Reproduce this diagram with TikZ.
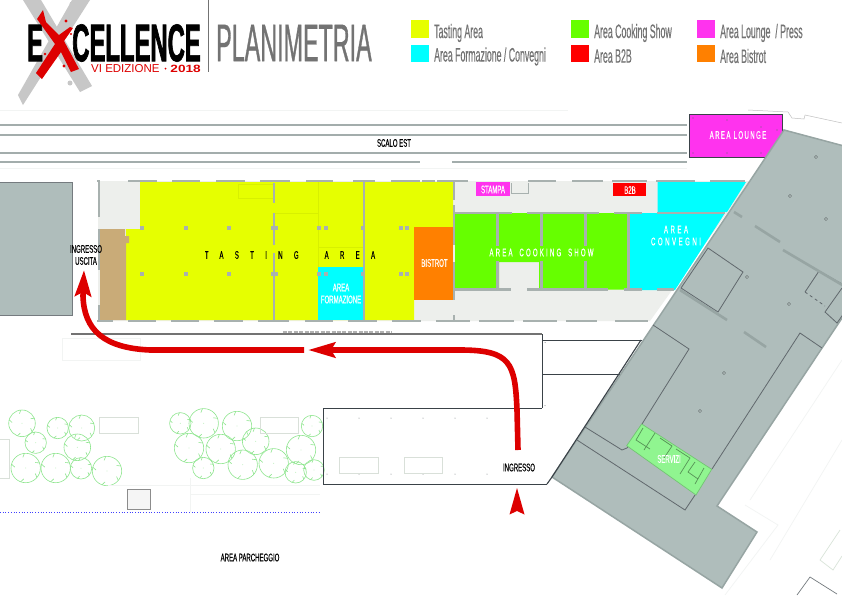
\documentclass[tikz,border=0pt]{standalone}
\usepackage{fontspec}
\usetikzlibrary{arrows.meta}
\setmainfont{Liberation Sans}
\newfontfamily\logofont[FakeStretch=0.45,FakeBold=1.2]{Liberation Sans Bold}
\newfontfamily\titlefont[FakeStretch=0.44,FakeBold=0.6]{Liberation Sans}
\newfontfamily\legfont[FakeStretch=0.45,FakeBold=0.25]{Liberation Sans}
\newfontfamily\cnd[FakeStretch=0.55,FakeBold=0.3]{Liberation Sans}
\newfontfamily\cndwide[FakeStretch=0.55,LetterSpace=20,FakeBold=0.3]{Liberation Sans}
\newfontfamily\cndconv[FakeStretch=0.55,LetterSpace=23,FakeBold=0.3]{Liberation Sans}
\newfontfamily\cndmid[FakeStretch=0.55,LetterSpace=13,FakeBold=0.3]{Liberation Sans}
\newfontfamily\cndvast[FakeStretch=0.55,LetterSpace=103,FakeBold=0.3]{Liberation Sans}
\newfontfamily\yearfont[FakeStretch=1.3]{Liberation Sans Bold}
\definecolor{bldg}{HTML}{AFBDBB}
\definecolor{bldgedge}{HTML}{97A5A3}
\definecolor{darkline}{HTML}{3A4248}
\definecolor{wallc}{HTML}{A8B1AF}
\definecolor{hallbg}{HTML}{EDEFEC}
\definecolor{ctast}{HTML}{E6FF00}
\definecolor{ccyan}{HTML}{00FFFF}
\definecolor{ccook}{HTML}{66FF00}
\definecolor{cred}{HTML}{FF0000}
\definecolor{clounge}{HTML}{FF33EE}
\definecolor{corange}{HTML}{FF8000}
\definecolor{ctan}{HTML}{C9AB78}
\definecolor{arrowred}{HTML}{DD0000}
\definecolor{treec}{HTML}{8FE68F}
\definecolor{servc}{HTML}{90F590}
\definecolor{faintc}{HTML}{F2F4F3}
\definecolor{trackc}{HTML}{A3ADAC}
\tikzset{
  lbl/.style={inner sep=0pt,font=\cnd\fontsize{11}{12}\selectfont,text=black},
  whitelbl/.style={inner sep=0pt,font=\cnd\fontsize{11}{12}\selectfont,text=white},
  legtext/.style={inner sep=0pt,anchor=west,font=\legfont\fontsize{19.5}{20}\selectfont,text=black!55},
  legbox/.style={draw=none,inner sep=0pt,minimum width=17.5pt,minimum height=17.5pt,anchor=north west},
  wall/.style={draw=wallc,line width=2.7pt},
  iwall/.style={draw=wallc,line width=3pt},
  track/.style={draw=trackc,line width=1.1pt},
  faint/.style={draw=faintc,line width=0.7pt},
  roomline/.style={draw=darkline!80,line width=0.8pt},
  outline/.style={draw=darkline,line width=1pt},
  strip/.style={draw=bldgedge,line width=2.6pt},
  routearrow/.style={draw=arrowred,line width=5.6pt},
}
\begin{document}
\begin{tikzpicture}[x=1pt,y=-1pt]
\useasboundingbox (0,0) rectangle (842,595);
\clip (0,0) rectangle (842,595);
\fill[white] (0,0) rectangle (842,595);

% logo
\fill[black!22] (23,0) -- (41,0) -- (92,86) -- (80,92) -- cycle;
\fill[black!22] (72,0) -- (90,0) -- (23,105) -- (18,95) -- cycle;
\fill[black!22] (72,4) circle (2.5);
\fill[black!22] (70,83) circle (2.5);
\node[inner sep=0pt,anchor=west,font=\logofont\fontsize{53}{54}\selectfont] (logoe) at (27,43) {E};
\node[inner sep=0pt,anchor=east,font=\logofont\fontsize{53}{54}\selectfont] (logorest) at (201,43) {CELLENCE};
\fill[arrowred] (43,10) -- (37,19) -- (55,44) -- (36,73) -- (42,79) -- (61,52) -- (71,72) -- (79,69) -- (64,41) -- (73,28) -- (70,27) -- (59,35) -- (46,22) -- cycle;
\foreach \p/\q/\s in {66/21/1.6,71/34/1.1,64/66/1.6,45/54/1.4}{\fill[arrowred] (\p,\q) circle (\s);}
\node[inner sep=0pt,anchor=west,text=arrowred,font=\fontsize{11.5}{12}\selectfont] (logovi) at (91,68.5) {VI EDIZIONE};
\fill[arrowred] (165.5,68.5) circle (1);
\node[inner sep=0pt,anchor=east,text=arrowred,font=\yearfont\fontsize{10.5}{11}\selectfont] (logoyr) at (201,68.5) {2018};
\draw[black!55,line width=0.8pt] (208,0) -- (208,72);
\node[inner sep=0pt,anchor=west,text=black!55,font=\titlefont\fontsize{53}{54}\selectfont] (title) at (216,43) {PLANIMETRIA};

% legend
\node[legbox,fill=ctast] (k1) at (411,20) {};
\node[legbox,fill=ccyan] (k2) at (411,44.5) {};
\node[legbox,fill=ccook] (k3) at (571,20) {};
\node[legbox,fill=cred] (k4) at (571,44.5) {};
\node[legbox,fill=clounge] (k5) at (697,20) {};
\node[legbox,fill=corange] (k6) at (697,44.5) {};
\node[legtext] (t1) at (434,33) {Tasting Area};
\node[legtext] (t2) at (434,56.5) {Area Formazione / Convegni};
\node[legtext] (t3) at (594,33) {Area Cooking Show};
\node[legtext] (t4) at (594,56) {Area B2B};
\node[legtext] (t5) at (720,33) {Area Lounge\ \ / Press};
\node[legtext] (t6) at (720,56) {Area Bistrot};

% faint surroundings
\draw[faint] (0,110) -- (568,110);
\draw[faint] (0,168) -- (687,168);
\draw[faint] (62,338) rectangle (140,360);
\draw[draw=black!25,line width=0.5pt] (748,110) -- (788,112) -- (792,118) -- (804,119) -- (805,115) -- (842,123);
\draw[faint] (770,560) -- (842,440);
\draw[faint] (750,500) -- (842,360);
\draw[faint] (745,505) -- (778,525) -- (725,595);
\draw[draw=green!30!black!15,line width=0.7pt] (840,530) -- (820,560) -- (833,570) -- (842,556);
\draw[draw=darkline!70,line width=0.7pt] (797,595) -- (810,577) -- (837,594);

% tracks
\foreach \ty in {125,135,153}{\draw[track] (0,\ty) -- (687,\ty);}
\draw[track] (0,162) -- (420,162);
\draw[track] (452,162) -- (687,162);

% trees
\foreach \x/\y/\r in {22/423.3/13.3,35.7/442.7/10.7,25.7/468/14.7,57.7/428/10.7,81.7/428/13,77.3/447.3/13.3,55.7/468/14.7,81/468.3/10.7,107/471/14.7,180.3/423.3/10.7,203.7/423.3/14.7,237/426/14.7,189/448/14.7,220.7/449/14.7,255.7/441.3/13.3,203.3/468/10.7,242.7/464.7/14.7,273.7/463.3/14.7,301/450/14.7,295.7/472.3/10.7,314/470/10.3,312/426/10.7}{
  \draw[treec,line width=0.6pt] (\x,\y) circle (\r);
  \foreach \a in {20,95,165,250,320}{
    \draw[treec,line width=0.6pt] ({\x+\r*cos(\a)},{\y-\r*sin(\a)}) -- ({\x+0.75*\r*cos(\a+10)},{\y-0.75*\r*sin(\a+10)});
  }
  \fill[treec] (\x,\y) circle (0.4);
}
\draw[draw=green!20!black!15,line width=0.8pt] (99.3,417.3) rectangle (138.7,433.3);
\draw[draw=green!20!black!15,line width=0.8pt] (260,417.3) rectangle (298.7,433.3);
\draw[draw=green!20!black!15,line width=0.8pt] (-2,439.3) rectangle (9.3,478.7);
\draw[draw=black!45,fill=black!4,line width=0.8pt] (127.3,489.3) rectangle (150.7,509.3);
\draw[blue!75,line width=0.7pt,dotted] (0,512.3) -- (320,512.3);
\draw[faint] (108,485) -- (320,485);
\draw[faint] (190,478) -- (190,512);
\draw[faint] (190,494) -- (320,494);

% left building
\draw[fill=bldg,draw=darkline!70,line width=0.8pt] (-2,182.5) rectangle (72.5,315.5);

% hall floor and areas
\fill[hallbg] (98,181) -- (750,181) -- (650,321) -- (98,321) -- cycle;
\fill[ctast] (140,182) -- (453,182) -- (453,227) -- (414,227) -- (414,320) -- (126,320) -- (126,229) -- (140,229) -- cycle;
\fill[ctan] (100,229) -- (125,229) -- (125,236) -- (129,236) -- (129,243) -- (126,243) -- (126,320) -- (100,320) -- cycle;
\fill[ccyan] (318,267) rectangle (363,320);
\fill[corange] (414,227) rectangle (453,300);
\fill[ccook] (455,213) -- (627,213) -- (627,289.5) -- (539,289.5) -- (539,262) -- (499,262) -- (499,289.5) -- (455,289.5) -- cycle;
\fill[ccyan] (630,213) -- (725,213) -- (675,290) -- (630,290) -- cycle;
\fill[ccyan] (657.5,182) -- (746,182) -- (727,212) -- (657.5,212) -- cycle;
\fill[clounge] (476,182) rectangle (510,196);
\fill[cred] (613,183) rectangle (646,196);
\draw[ctast!94!black,line width=0.4pt] (238,184) rectangle (273,198);
\draw[ctast!94!black,line width=0.4pt] (318,182) -- (318,267) (274,213) -- (318,213) (318,247) -- (363,247);

% outer walls of the hall
\foreach \a/\b in {97/100,128/157,172/200,216/245,260/290,306/333,353/375,391/420,422/435,437/468,528/556,572/603,612/647,656/695,710/745}{\draw[wall] (\a,181) -- (\b,181);}
\foreach \a/\b in {97/113,128/156,171/199,214/243,258/289,305/333,348/377,392/421,436/470,479/514,523/557,566/597,615/648}{\draw[wall] (\a,321) -- (\b,321);}
\foreach \a/\b in {181/217,229/270,305/322}{\draw[draw=wallc,line width=2pt] (98.7,\a) -- (98.7,\b);}
\foreach \a/\b in {183/203,213/245,253/321}{\draw[draw=wallc,line width=1.8pt] (274,\a) -- (274,\b);}
\draw[draw=wallc,line width=1.8pt] (364,182) -- (364,321);
\foreach \a/\b in {182/200,205/245,262/300,315/320}{\draw[wall] (454,\a) -- (454,\b);}
% inner walls of the hall
\foreach \a/\b in {455/512,527/599,614/642,657/725}{\draw[iwall,line width=2.4pt] (\a,213) -- (\b,213);}
\foreach \a/\b in {455/511,527/608,624/642,657/674}{\draw[iwall,line width=2.4pt] (\a,289.5) -- (\b,289.5);}
\foreach \c in {497,541,585}{
  \draw[iwall] (\c,213) -- (\c,246);
  \draw[iwall] (\c,261) -- (\c,289.5);
}
\draw[iwall,line width=3.4pt] (628.5,213) -- (628.5,290);
\draw[draw=wallc,line width=1pt] (511,183) -- (511,193) -- (528,193) -- (528,183);
% pillars
\foreach \c in {142,186,229,273,276,319,326,363,401,407}{
  \fill[wallc] (\c-1.8,226.2) rectangle (\c+1.8,229.8);
  \fill[wallc] (\c-1.8,272.2) rectangle (\c+1.8,275.8);
}
% grille
\draw[draw=black!30,line width=3pt,dash pattern=on 4pt off 1.4pt] (283,332) -- (392,332);

% lounge
\draw[fill=clounge,draw=darkline,line width=1pt] (689.5,114) rectangle (782,157);
\foreach \p/\q in {693/118,727/120,761/127,777/130,693/153,727/153,761/153}{\fill[darkline!80] (\p,\q) circle (0.7);}

% outlined yard boxes
\draw[draw=black!55,line width=1.2pt] (71,334) -- (542,334);
\draw[outline] (542,334) -- (542,408);
\draw[outline] (323,408) -- (542,408);
\draw[outline] (323,408) -- (323,484) -- (547,484);
\draw[outline] (542,340.7) -- (642,340.7);
\draw[outline] (542,374) -- (620,374);
\foreach \c in {327,359,391,423,455,487}{\fill[darkline!70] (\c,418) circle (0.5); \fill[darkline!70] (\c,474) circle (0.5);}
\fill[darkline!70] (545,342.5) circle (0.5);
\fill[darkline!70] (545,405.5) circle (0.5);
\draw[draw=green!20!black!15,line width=0.8pt] (339.3,457.3) rectangle (378.7,473.3);
\draw[draw=green!20!black!15,line width=0.8pt] (404,457.3) rectangle (442.7,473.3);

% big building
\draw[fill=bldg,draw=bldgedge,line width=1.5pt] (784,130) -- (844,146) -- (844,315) -- (717,506) -- (757,532) -- (722,588) -- (552,477) -- cycle;
\draw[draw=darkline,line width=1.1pt] (641,340) -- (552,477) -- (547,484);
% rooms and lines
\draw[roomline] (708,248) -- (743,272) -- (718,312) -- (681,288) -- cycle;
\draw[roomline] (653,325) -- (689,349) -- (627,448) -- (622,450) -- (585,427);
\draw[roomline] (577,440) -- (685,510) -- (695,495);
\draw[roomline] (712,469) -- (800,333) -- (822,348);
\draw[roomline] (819,271) -- (805,292);
\draw[roomline] (819,271) -- (844,285);
\draw[roomline,dashed] (805,292) -- (825,306);
\draw[roomline] (842,288) -- (825,312) -- (837,323) -- (844,313);
% wall strips
\draw[strip] (755,226) -- (780,242);
\draw[strip] (783,250) -- (844,286);
\draw[strip] (734,212) -- (742,217);
\draw[strip] (680,290) -- (727,320);
\draw[strip] (744,332) -- (766,347);
% columns
\foreach \p/\q in {816/157,790/196,826/219,747/277,789/304,724/373,700/411}{
  \draw[fill=bldgedge!85!white,draw=bldgedge!70!black,line width=0.3pt] (\p,\q) circle (1.7);
}
% services block
\draw[fill=servc,draw=servc!80!black,line width=0.7pt] (641.7,424) -- (711.7,469.3) -- (696,495) -- (626.7,445.7) -- cycle;
\draw[servc!60!black,line width=0.7pt] (643,428) -- (636,440) -- (650,449) (655,433) -- (644,450) (660,438) -- (672,446) -- (664,458) (676,449) -- (690,458) -- (680,474) (695,462) -- (688,472) -- (698,479) (704,468) -- (695,484);

% route arrows
\coordinate (routeA) at (518,450);
\coordinate (routeB) at (308,350);
\coordinate (routeC) at (304,350);
\coordinate (routeD) at (84,270);
\draw[routearrow,-{Stealth[length=27pt,width=15pt,inset=4pt]}] (routeA) -- (517,410) .. controls (515,363) and (511,350) .. (460,350) -- (routeB);
\draw[routearrow,-{Stealth[length=26pt,width=16pt,inset=4pt]}] (routeC) -- (150,350) .. controls (104,348) and (84,330) .. (83,296) -- (routeD);
\fill[arrowred] (517,488) -- (524.5,514.5) -- (517,511) -- (509.5,514.5) -- cycle;

% labels
\node[lbl] (scalo) at (394,143) {SCALO EST};
\node[lbl] (ing1) at (86,249) {INGRESSO};
\node[lbl] (usc) at (86,261) {USCITA};
\node[lbl,font=\cndvast\fontsize{11}{12}\selectfont] (tasting) at (290,255) {TASTING\hspace{13pt} AREA};
\node[whitelbl] (form1) at (341,287.5) {AREA};
\node[whitelbl] (form2) at (341,299.5) {FORMAZIONE};
\node[whitelbl] (bist) at (434.5,263) {BISTROT};
\node[whitelbl,font=\cndwide\fontsize{11}{12}\selectfont] (cook) at (541.5,252.5) {AREA\hspace{3pt} COOKING\hspace{3pt} SHOW};
\node[whitelbl,font=\cndconv\fontsize{11}{12}\selectfont] (conv1) at (676,229.5) {AREA};
\node[whitelbl,font=\cndconv\fontsize{11}{12}\selectfont] (conv2) at (676,241.5) {CONVEGNI};
\node[whitelbl,font=\cndmid\fontsize{11}{12}\selectfont] (lounge) at (738,135) {AREA LOUNGE};
\node[whitelbl] (stampa) at (493,189.5) {STAMPA};
\node[whitelbl] (btob) at (630,190) {B2B};
\node[whitelbl] (serv) at (669,459) {SERVIZI};
\node[lbl] (ingr) at (519,467.5) {INGRESSO};
\node[lbl] (park) at (250,557.5) {AREA PARCHEGGIO};
\end{tikzpicture}
\end{document}
